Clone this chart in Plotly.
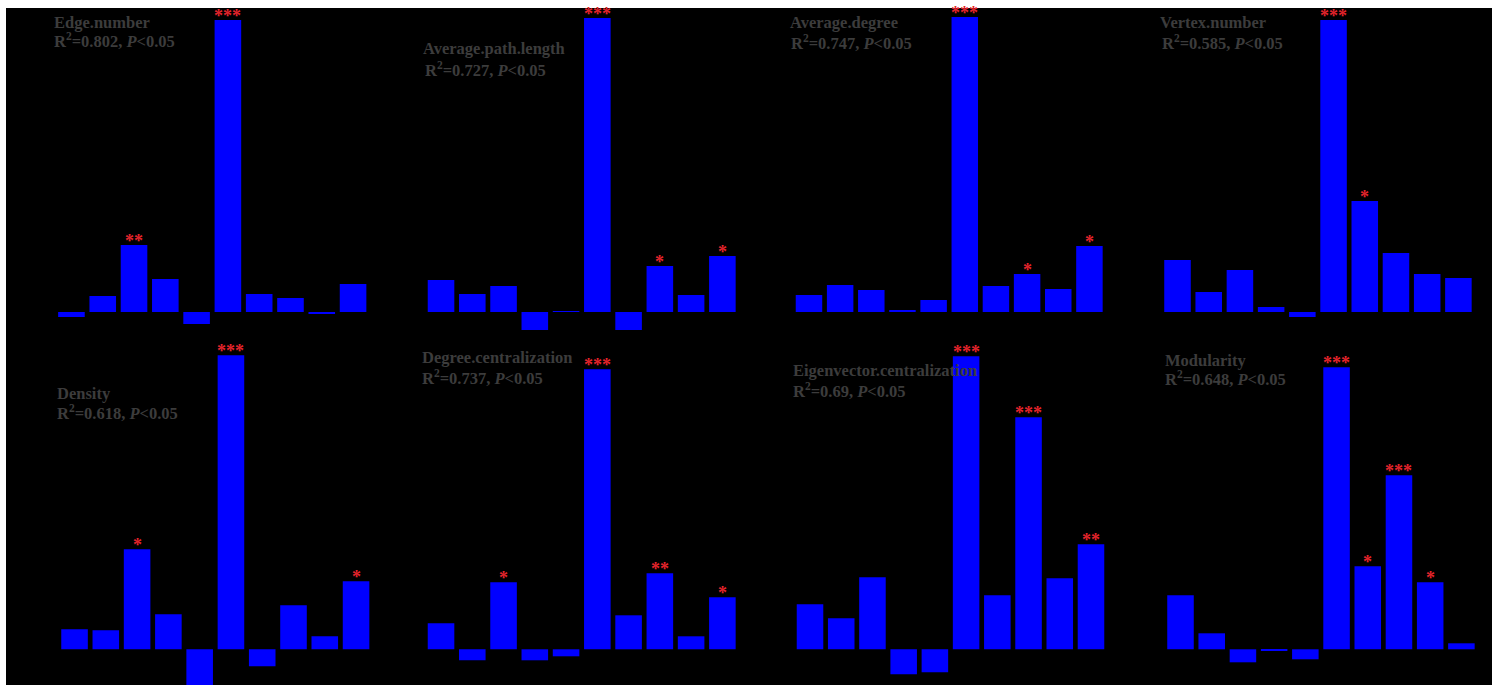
import plotly.graph_objects as go

W, H = 1500, 685

categories = ["V1", "V2", "V3", "NH", "NO", "V6", "V7", "V8", "V9", "V10"]

panel_titles = ["Edge.number", "Average.path.length", "Average.degree", "Vertex.number",
                "Density", "Degree.centralization", "Eigenvector.centralization", "Modularity"]
r2_values = ["0.802", "0.727", "0.747", "0.585", "0.618", "0.737", "0.69", "0.648"]

edge_number = [-5, 16, 67, 33, -12, 292, 18, 14, -2, 28]
average_path_length = [32, 18, 26, -26, 1, 294, -18, 46, 17, 56]
average_degree = [17, 27, 22, 2, 12, 295, 26, 38, 23, 66]
vertex_number = [52, 20, 42, 5, -5, 292, 111, 59, 38, 34]
density = [20, 19, 100, 35, -42, 294, -17, 44, 13, 68]
degree_centralization = [26, -11, 67, -11, -7, 280, 34, 76, 13, 52]
eigenvector_centralization = [45, 31, 72, -25, -23, 293, 54, 232, 71, 105]
modularity = [54, 16, -13, -1, -10, 282, 83, 174, 67, 6]

edge_number_sig = ["", "", "**", "", "", "***", "", "", "", ""]
average_path_length_sig = ["", "", "", "", "", "***", "", "*", "", "*"]
average_degree_sig = ["", "", "", "", "", "***", "", "*", "", "*"]
vertex_number_sig = ["", "", "", "", "", "***", "*", "", "", ""]
density_sig = ["", "", "*", "", "", "***", "", "", "", "*"]
degree_centralization_sig = ["", "", "*", "", "", "***", "", "**", "", "*"]
eigenvector_centralization_sig = ["", "", "", "", "", "***", "", "***", "", "**"]
modularity_sig = ["", "", "", "", "", "***", "*", "***", "*", ""]

series = [edge_number, average_path_length, average_degree, vertex_number,
          density, degree_centralization, eigenvector_centralization, modularity]
sigs = [edge_number_sig, average_path_length_sig, average_degree_sig, vertex_number_sig,
        density_sig, degree_centralization_sig, eigenvector_centralization_sig, modularity_sig]

# layout in pixels: (left, right) of category span, zero line y, domain top, domain bottom
panel_x = [(55.8, 368.7), (425.4, 738.0), (793.4, 1105.0), (1161.9, 1474.0),
           (58.9, 371.7), (425.4, 738.0), (794.4, 1106.6), (1164.9, 1477.0)]
row_geom = [(312.0, 8.0, 330.0), (649.3, 335.0, 685.0)]  # zero_y, top, bottom

title_pos = [((52, 22), (52, 41)), ((421, 49), (423, 70)), ((788, 23), (789, 43)),
             ((1158, 22), (1160, 43)), ((55, 393), (55, 413)), ((420, 357), (420, 377)),
             ((791, 370), (791, 390)), ((1163, 360), (1163, 378))]

BLUE = "#0000ff"
RED = "#e3242b"
GRAY = "#3c3c3c"
FONT = "Liberation Serif"

fig = go.Figure()
annotations = []

for i, (vals, sig) in enumerate(zip(series, sigs)):
    n = i + 1
    xa = "x" if n == 1 else f"x{n}"
    ya = "y" if n == 1 else f"y{n}"
    fig.add_trace(go.Bar(x=categories, y=vals, marker=dict(color=BLUE, line=dict(width=0)),
                         xaxis=xa, yaxis=ya, showlegend=False, hoverinfo="x+y"))
    zero_y, top, bottom = row_geom[0 if i < 4 else 1]
    xl, xr = panel_x[i]
    xaxis = dict(domain=[xl / W, xr / W], range=[-0.5, 9.5], type="category",
                 showgrid=False, zeroline=False, showline=False, showticklabels=False,
                 ticks="", anchor=ya)
    yaxis = dict(domain=[1 - bottom / H, 1 - top / H],
                 range=[-(bottom - zero_y), zero_y - top],
                 showgrid=False, zeroline=False, showline=False, showticklabels=False,
                 ticks="", anchor=xa)
    fig.layout[("xaxis" if n == 1 else f"xaxis{n}")] = xaxis
    fig.layout[("yaxis" if n == 1 else f"yaxis{n}")] = yaxis

    for c, v, s in zip(categories, vals, sig):
        if s:
            annotations.append(dict(x=c, y=v, xref=xa, yref=ya, text=f"<b>{s}</b>",
                                    showarrow=False, yanchor="bottom", xanchor="center",
                                    yshift=-8,
                                    font=dict(family=FONT, size=18, color=RED)))

    (x1, y1), (x2, y2) = title_pos[i]
    annotations.append(dict(x=x1 / W, y=1 - y1 / H, xref="paper", yref="paper",
                            text=f"<b>{panel_titles[i]}</b>", showarrow=False,
                            xanchor="left", yanchor="middle",
                            font=dict(family=FONT, size=16.5, color=GRAY)))
    annotations.append(dict(x=x2 / W, y=1 - y2 / H, xref="paper", yref="paper",
                            text=f"<b>R<sup>2</sup>={r2_values[i]}, <i>P</i>&lt;0.05</b>",
                            showarrow=False, xanchor="left", yanchor="middle",
                            font=dict(family=FONT, size=16.5, color=GRAY)))

fig.update_layout(
    width=W, height=H, margin=dict(l=0, r=0, t=0, b=0),
    paper_bgcolor="white", plot_bgcolor="rgba(0,0,0,0)",
    bargap=0.15, showlegend=False,
    annotations=annotations,
    shapes=[dict(type="rect", xref="paper", yref="paper", x0=6 / W, x1=1492 / W,
                 y0=-0.01, y1=1 - 8 / H, fillcolor="black", line=dict(width=0), layer="below")],
)

fig.write_html("out.html")
